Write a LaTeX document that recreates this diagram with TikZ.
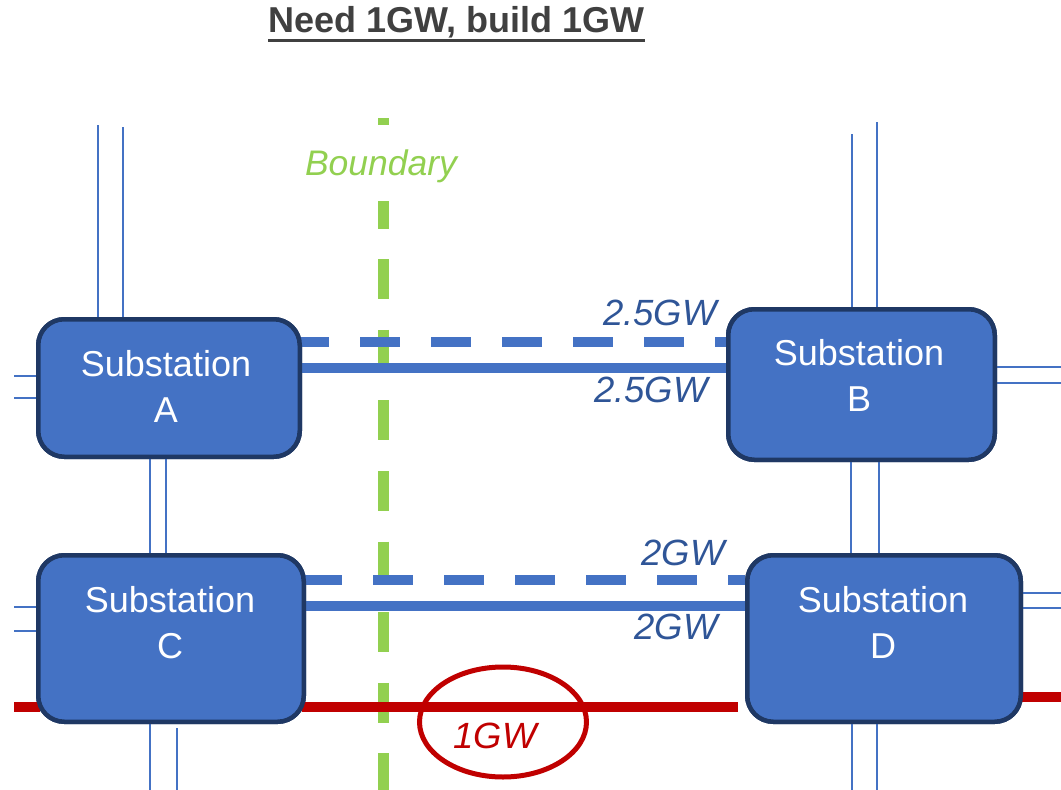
\documentclass[tikz,border=0pt]{standalone}
\usepackage{fontspec}
\setmainfont{Liberation Sans}
\usetikzlibrary{shapes.geometric,calc}
\definecolor{boxfill}{HTML}{4472C4}
\definecolor{boxline}{HTML}{1F3864}
\definecolor{thinblue}{HTML}{4472C4}
\definecolor{lblblue}{HTML}{2F5597}
\definecolor{bgreen}{HTML}{92D050}
\definecolor{rred}{HTML}{C00000}
\definecolor{tgray}{HTML}{404040}
\tikzset{
  subbox/.style={draw=boxline, line width=4.5pt, fill=boxfill, rounded corners=26pt, inner sep=0pt, outer sep=2.25pt},
  subtext/.style={text=white, align=center, inner sep=0pt, anchor=north, font=\fontsize{36}{46}\selectfont},
  wire/.style={draw=thinblue, line width=1.6pt},
  link/.style={draw=boxfill, line width=10pt},
  dashlink/.style={draw=boxfill, line width=10pt, dash pattern=on 40pt off 31pt},
  redlink/.style={draw=rred, line width=10pt},
  gwlabel/.style={text=lblblue, inner sep=0pt, anchor=base east, font=\fontsize{36.5}{40}\selectfont\itshape},
}
\begin{document}
\begin{tikzpicture}[x=1pt,y=-1pt]
\useasboundingbox (0,0) rectangle (1061,790);
% title
\node[anchor=base, inner sep=0pt, text=tgray, font=\fontsize{36}{40}\selectfont\bfseries] (title) at (456.5,32) {Need 1GW, build 1GW};
\draw[tgray, line width=3pt] ([yshift=-8pt]title.base west) -- ([yshift=-8pt]title.base east);
% boundary
\coordinate (btop) at (383.5,118);
\coordinate (bbot) at (383.5,790);
\draw[bgreen, line width=10.5pt, dash pattern=on 40pt off 30.6pt] (btop) -- (bbot);
\node[fill=white, text=bgreen, inner xsep=0pt, inner ysep=0pt, text height=50pt, text depth=26pt, anchor=base, font=\fontsize{35.5}{40}\selectfont\itshape] (blabel) at (381,175) {Boundary};
% boxes (positions)
\path (169,388) node[subbox, minimum width=261.5pt, minimum height=137.5pt] (A) {};
\path (861.5,384.5) node[subbox, minimum width=266.5pt, minimum height=150.5pt] (B) {};
\path (171,638.5) node[subbox, minimum width=265.5pt, minimum height=166.5pt] (C) {};
\path (884,638.5) node[subbox, minimum width=273.5pt, minimum height=166.5pt] (D) {};
% thin wires with free ends
\coordinate (a1) at (98,125);
\coordinate (a2) at (123,127);
\coordinate (a3) at (14,376);
\coordinate (a4) at (14,398);
\coordinate (c3) at (14,607);
\coordinate (c4) at (14,631);
\coordinate (c5) at (150,790);
\coordinate (c6) at (177,790);
\coordinate (b1) at (852,134);
\coordinate (b2) at (877,122);
\coordinate (b3) at (1061,367);
\coordinate (b4) at (1061,383);
\coordinate (d3) at (1061,593);
\coordinate (d4) at (1061,608);
\coordinate (d5) at (852,790);
\coordinate (d6) at (877,790);
\draw[wire] (a1) -- (a1 |- A.north);
\draw[wire] (a2) -- (a2 |- A.north);
\draw[wire] (a3) -- (a3 -| A.west);
\draw[wire] (a4) -- (a4 -| A.west);
\draw[wire] (150,0 |- A.south) -- (150,0 |- C.north);
\draw[wire] (166,0 |- A.south) -- (166,0 |- C.north);
\draw[wire] (c3) -- (c3 -| C.west);
\draw[wire] (c4) -- (c4 -| C.west);
\draw[wire] (c5 |- C.south) -- (c5);
\draw[wire] (177,728) -- (c6);
\draw[wire] (b1) -- (b1 |- B.north);
\draw[wire] (b2) -- (b2 |- B.north);
\draw[wire] (b3 -| B.east) -- (b3);
\draw[wire] (b4 -| B.east) -- (b4);
\draw[wire] (851,0 |- B.south) -- (851,0 |- D.north);
\draw[wire] (879,0 |- B.south) -- (879,0 |- D.north);
\draw[wire] (d3 -| D.east) -- (d3);
\draw[wire] (d4 -| D.east) -- (d4);
\draw[wire] (d5 |- D.south) -- (d5);
\draw[wire] (d6 |- D.south) -- (d6);
% thick links
\draw[dashlink] ([xshift=-13pt,yshift=46pt]A.east) -- ([yshift=42.5pt]B.west);
\draw[link] ([xshift=-4pt,yshift=20pt]A.east) -- ([yshift=16.5pt]B.west);
\draw[dashlink] ([xshift=-4pt,yshift=58.5pt]C.east) -- ([yshift=58.5pt]D.west);
\draw[link] ([xshift=-4pt,yshift=32.5pt]C.east) -- ([yshift=32.5pt]D.west);
% red links
\coordinate (r1) at (14,707);
\coordinate (r2) at (738,707);
\coordinate (r3) at (1061,697);
\draw[redlink] (r1) -- ([xshift=4pt]r1 -| C.west);
\draw[redlink] ([xshift=-4pt]r1 -| C.east) -- (r2);
\draw[redlink] ([xshift=-4pt]r3 -| D.east) -- (r3);
% boxes drawn on top
\path (169,388) node[subbox, minimum width=261.5pt, minimum height=137.5pt] {};
\path (861.5,384.5) node[subbox, minimum width=266.5pt, minimum height=150.5pt] {};
\path (171,638.5) node[subbox, minimum width=265.5pt, minimum height=166.5pt] {};
\path (884,638.5) node[subbox, minimum width=273.5pt, minimum height=166.5pt] {};
\node[subtext] (tA) at (166,350) {Substation\\A};
\node[subtext] (tB) at (859,339) {Substation\\B};
\node[subtext] (tC) at (170,586) {Substation\\C};
\node[subtext] (tD) at (883,586) {Substation\\D};
% labels
\node[gwlabel] (l1) at (717,325) {2.5GW};
\node[gwlabel] (l2) at (708,402) {2.5GW};
\node[gwlabel] (l3) at (725,565) {2GW};
\node[gwlabel] (l4) at (718,639) {2GW};
% ring
\node[draw=rred, line width=5pt, ellipse, minimum width=167pt, minimum height=110pt, inner sep=0pt] (ring) at (503,722) {};
\node[text=rred, inner sep=0pt, anchor=base, font=\fontsize{36.5}{40}\selectfont\itshape] (rlabel) at (495,748) {1GW};
\end{tikzpicture}
\end{document}
